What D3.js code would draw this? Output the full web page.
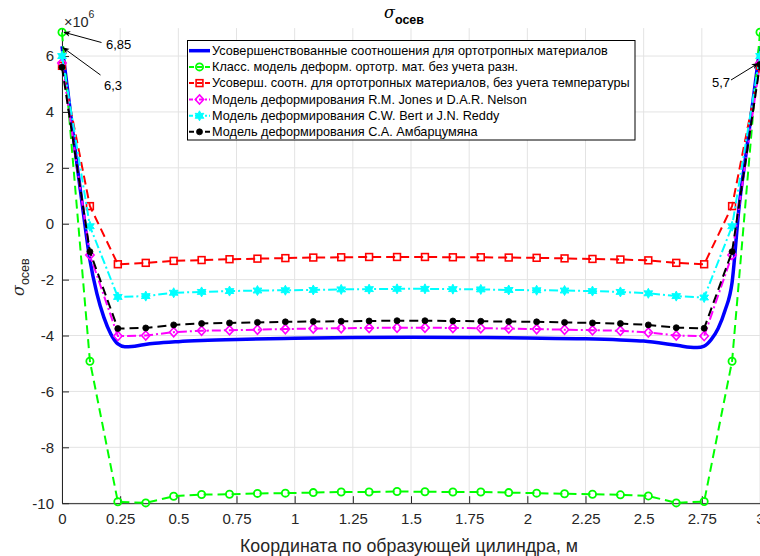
<!DOCTYPE html>
<html><head><meta charset="utf-8">
<script src="https://cdn.jsdelivr.net/npm/d3@7"></script>
<style>
body{margin:0;background:#fff;}
svg{display:block;font-family:"Liberation Sans",Arial,sans-serif;}
</style></head>
<body><svg id="chart" width="760" height="556"></svg>
<script>
// ---------- data ----------
const xMarked = [0,0.12,0.24,0.36,0.48,0.6,0.72,0.84,0.96,1.08,1.2,1.32,1.44,1.56,1.68,1.8,1.92,2.04,2.16,2.28,2.4,2.52,2.64,2.76,2.88,3.0];
const greenVals = [6.85,-4.92,-9.95,-9.99,-9.75,-9.69,-9.68,-9.65,-9.64,-9.62,-9.6,-9.6,-9.58,-9.59,-9.6,-9.6,-9.62,-9.64,-9.66,-9.68,-9.7,-9.74,-9.99,-9.94,-4.92,6.85];
const redVals = [5.65,0.63,-1.45,-1.40,-1.33,-1.30,-1.27,-1.25,-1.23,-1.21,-1.2,-1.19,-1.19,-1.19,-1.2,-1.2,-1.21,-1.22,-1.24,-1.26,-1.28,-1.31,-1.40,-1.45,0.63,5.65];
const magentaVals = [5.75,-1.12,-4.02,-4.0,-3.88,-3.83,-3.81,-3.79,-3.77,-3.75,-3.74,-3.73,-3.72,-3.72,-3.73,-3.74,-3.75,-3.77,-3.79,-3.81,-3.83,-3.89,-4.0,-4.02,-1.12,5.75];
const cyanVals = [6.0,-0.09,-2.62,-2.59,-2.47,-2.44,-2.41,-2.39,-2.38,-2.37,-2.35,-2.34,-2.33,-2.33,-2.34,-2.35,-2.37,-2.38,-2.39,-2.41,-2.44,-2.49,-2.59,-2.64,-0.09,6.0];
const blackVals = [5.6,-1.0,-3.75,-3.73,-3.62,-3.57,-3.55,-3.53,-3.51,-3.5,-3.49,-3.48,-3.47,-3.47,-3.48,-3.49,-3.5,-3.51,-3.53,-3.55,-3.57,-3.62,-3.72,-3.74,-1.0,5.7];
const blueX = [0,0.03,0.06,0.09,0.12,0.15,0.18,0.21,0.24,0.27,0.30,0.35,0.4,0.5,0.6,0.75,1.0,1.25,1.5,1.75,2.0,2.25,2.4,2.5,2.6,2.65,2.7,2.73,2.76,2.79,2.82,2.85,2.88,2.91,2.94,2.97,3.0];
const blueVals = [6.35,4.4,2.4,0.5,-1.3,-2.5,-3.35,-3.95,-4.3,-4.4,-4.39,-4.33,-4.28,-4.22,-4.18,-4.14,-4.1,-4.07,-4.06,-4.07,-4.09,-4.12,-4.16,-4.2,-4.3,-4.36,-4.42,-4.43,-4.38,-4.15,-3.75,-3.1,-2.1,0.6,2.5,4.4,6.35];
const xTicks = [0,0.25,0.5,0.75,1,1.25,1.5,1.75,2,2.25,2.5,2.75,3];
const xTickLabels = ["0","0.25","0.5","0.75","1","1.25","1.5","1.75","2","2.25","2.5","2.75","3"];
const yTicks = [-10,-8,-6,-4,-2,0,2,4,6];
const yTickLabels = ["-10","-8","-6","-4","-2","0","2","4","6"];
const legendLabels = [
  "Усовершенствованные соотношения для ортотропных материалов",
  "Класс. модель деформ. ортотр. мат. без учета разн.",
  "Усоверш. соотн. для ортотропных материалов, без учета температуры",
  "Модель деформирования R.M. Jones и D.A.R. Nelson",
  "Модель деформирования C.W. Bert и J.N. Reddy",
  "Модель деформирования С.А. Амбарцумяна"
];
const annotations = [
  {label:"6,85", x:0, y:6.85},
  {label:"6,3", x:0, y:6.3},
  {label:"5,7", x:3, y:5.7}
];

// ---------- layout ----------
const svg = d3.select("#chart");
const L = 62, R = 760, T = 28.1, B = 503.2;
const x = d3.scaleLinear().domain([0,3]).range([L,R]);
const y = d3.scaleLinear().domain([-10,7]).range([B,T]);
const axisColor = "#262626";

// grid
const g = svg.append("g");
g.selectAll(".vg").data(xTicks).join("line")
  .attr("x1",d=>x(d)).attr("x2",d=>x(d)).attr("y1",T).attr("y2",B)
  .attr("stroke","#e3e3e3").attr("stroke-width",1);
g.selectAll(".hg").data(yTicks).join("line")
  .attr("x1",L).attr("x2",R).attr("y1",d=>y(d)).attr("y2",d=>y(d))
  .attr("stroke","#e3e3e3").attr("stroke-width",1);

// axes
const xAxis = d3.axisBottom(x).tickValues(xTicks).tickFormat((d,i)=>xTickLabels[i]).tickSizeInner(-7).tickSizeOuter(0).tickPadding(10);
const yAxis = d3.axisLeft(y).tickValues(yTicks).tickFormat((d,i)=>yTickLabels[i]).tickSizeInner(-7).tickSizeOuter(0).tickPadding(8);
const gx = svg.append("g").attr("transform",`translate(0,${B})`).call(xAxis);
const gy = svg.append("g").attr("transform",`translate(${L},0)`).call(yAxis);
[gx,gy].forEach(a=>{
  a.select(".domain").attr("stroke",axisColor).attr("stroke-width",1);
  a.selectAll(".tick line").attr("stroke",axisColor);
  a.selectAll(".tick text").attr("fill",axisColor).attr("font-size","15px").attr("font-family","Liberation Sans, Arial, sans-serif");
});
gy.select(".domain").attr("d",`M0.5,${T}V${B}`);

// clip
svg.append("clipPath").attr("id","clip").append("rect").attr("x",L-8).attr("y",T-8).attr("width",R-L+16).attr("height",B-T+16);
const plot = svg.append("g").attr("clip-path","url(#clip)");

const zipM = vals => xMarked.map((v,i)=>[v,vals[i]]);

const series = [
  {key:"blue", data: blueX.map((v,i)=>[v,blueVals[i]]), color:"#0000ff", w:3.5, dash:null, marker:null},
  {key:"green", data: zipM(greenVals), color:"#00ff00", w:2, dash:"9,5", marker:"circle"},
  {key:"red", data: zipM(redVals), color:"#ff0000", w:2, dash:"9,5", marker:"square"},
  {key:"magenta", data: zipM(magentaVals), color:"#ff00ff", w:2, dash:"9,3,2,3", marker:"diamond"},
  {key:"cyan", data: zipM(cyanVals), color:"#00ffff", w:2, dash:"9,3,2,3", marker:"star"},
  {key:"black", data: zipM(blackVals), color:"#000000", w:2, dash:"9,5", marker:"dot"}
];

function hexagram(ro, ri){
  const pts = [];
  for(let k=0;k<12;k++){
    const a = -Math.PI/2 + k*Math.PI/6;
    const r = k%2===0 ? ro : ri;
    pts.push([r*Math.cos(a), r*Math.sin(a)]);
  }
  return "M"+pts.map(p=>p[0].toFixed(2)+","+p[1].toFixed(2)).join("L")+"Z";
}

function drawMarker(sel, type, color){
  if(type==="circle"){
    sel.append("circle").attr("r",3.6).attr("fill","none").attr("stroke",color).attr("stroke-width",1.8);
  } else if(type==="square"){
    sel.append("rect").attr("x",-3.4).attr("y",-3.4).attr("width",6.8).attr("height",6.8).attr("fill","none").attr("stroke",color).attr("stroke-width",1.6);
  } else if(type==="diamond"){
    sel.append("path").attr("d","M0,-4.6L4.2,0L0,4.6L-4.2,0Z").attr("fill","none").attr("stroke",color).attr("stroke-width",1.6);
  } else if(type==="star"){
    sel.append("path").attr("d",hexagram(5,2.7)).attr("fill",color).attr("stroke",color).attr("stroke-width",1);
  } else if(type==="dot"){
    sel.append("circle").attr("r",3).attr("fill",color).attr("stroke",color).attr("stroke-width",0.8);
  }
}

series.forEach(s=>{
  const ln = d3.line().x(d=>x(d[0])).y(d=>y(d[1]));
  if(s.key==="blue") ln.curve(d3.curveMonotoneX);
  plot.append("path").datum(s.data).attr("d",ln).attr("fill","none")
    .attr("stroke",s.color).attr("stroke-width",s.w).attr("stroke-dasharray",s.dash).attr("stroke-linejoin","round");
  if(s.marker){
    plot.selectAll(".m-"+s.key).data(s.data).join("g").attr("class","m-"+s.key)
      .attr("transform",d=>`translate(${x(d[0])},${y(d[1])})`)
      .each(function(){ drawMarker(d3.select(this), s.marker, s.color); });
  }
});

// annotations (arrows)
svg.append("defs").append("marker").attr("id","arrow").attr("viewBox","0 0 10 10").attr("refX",9).attr("refY",5)
  .attr("markerWidth",7).attr("markerHeight",7).attr("orient","auto")
  .append("path").attr("d","M0,1L10,5L0,9L3,5Z").attr("fill","#000");
const annPos = [
  {tx:106, ty:49, lx:101.5, ly:42.5, ax: x(annotations[0].x)+2, ay: y(annotations[0].y)},
  {tx:104, ty:90, lx:100.5, ly:75, ax: x(annotations[1].x)+1, ay: y(annotations[1].y)},
  {tx:730, ty:87, lx:731, ly:80, ax: x(annotations[2].x)-2, ay: y(annotations[2].y)-1, anchor:"end"}
];
annotations.forEach((a,i)=>{
  const p = annPos[i];
  svg.append("line").attr("x1",p.lx).attr("y1",p.ly).attr("x2",p.ax).attr("y2",p.ay)
    .attr("stroke","#000").attr("stroke-width",1).attr("marker-end","url(#arrow)");
  svg.append("text").attr("x",p.tx).attr("y",p.ty).attr("text-anchor",p.anchor||"start")
    .attr("font-size","13px").attr("fill","#000").text(a.label);
});

// exponent label
const ex = svg.append("text").attr("x",64).attr("y",27).attr("fill",axisColor).attr("font-size","14.5px");
ex.append("tspan").text("×10");
ex.append("tspan").attr("dy",-9).attr("font-size","10.5px").text("6");

// title
const title = svg.append("text").attr("x",384).attr("y",18).attr("fill","#000");
title.append("tspan").attr("font-style","italic").attr("font-size","16px").attr("font-family","DejaVu Serif, serif").text("σ");
title.append("tspan").attr("dy",6).attr("font-weight","bold").attr("font-size","12.5px").text("осев");

// y label
const yl = svg.append("text").attr("transform","translate(24,296) rotate(-90)").attr("fill",axisColor);
yl.append("tspan").attr("font-style","italic").attr("font-size","16px").attr("font-family","DejaVu Serif, serif").text("σ");
yl.append("tspan").attr("dy",5).attr("font-size","12.5px").text("осев");

// x label
svg.append("text").attr("x",409).attr("y",552).attr("text-anchor","middle").attr("fill",axisColor)
  .attr("font-size","17.8px").text("Координата по образующей цилиндра, м");

// legend
const lg = svg.append("g");
lg.append("rect").attr("x",187.5).attr("y",40.5).attr("width",447.5).attr("height",99.5).attr("fill","#fff").attr("stroke","#000").attr("stroke-width",1);
const rowY = [50.7,66.9,83.1,99.5,115.8,131.8];
series.forEach((s,i)=>{
  const r = lg.append("g").attr("transform",`translate(0,${rowY[i]})`);
  r.append("line").attr("x1",189).attr("x2",210).attr("y1",0).attr("y2",0).attr("stroke",s.color).attr("stroke-width",s.w)
    .attr("stroke-dasharray", s.dash ? (s.key==="magenta"||s.key==="cyan" ? "4,2,2,2" : "5,3") : null);
  if(s.marker){ const m = r.append("g").attr("transform","translate(199.5,0)"); drawMarker(m,s.marker,s.color); }
  r.append("text").attr("x",212).attr("y",4.3).attr("font-size","12.7px").attr("fill","#000").text(legendLabels[i]);
});
</script>
</body></html>
